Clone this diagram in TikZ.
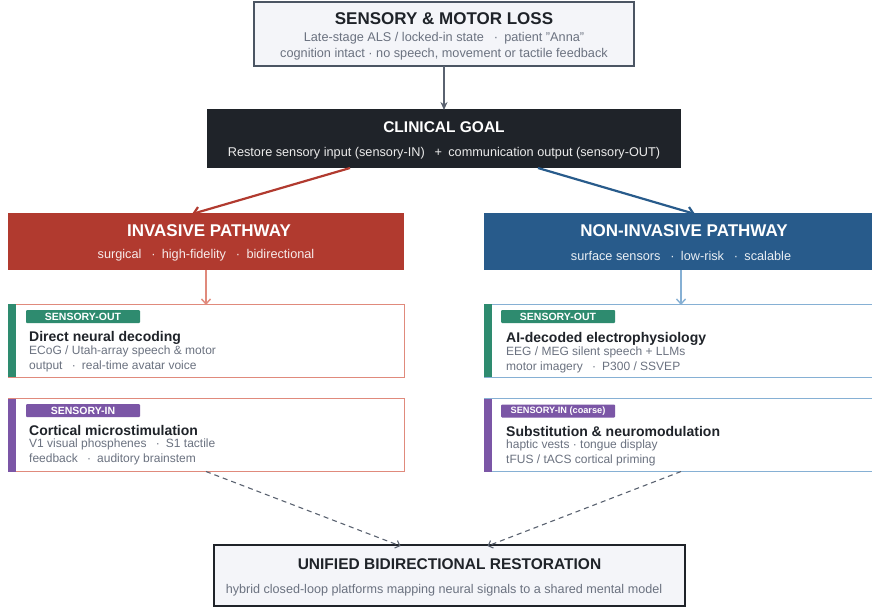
\documentclass[tikz,border=0pt]{standalone}
\usepackage{fontspec}
\setmainfont{Liberation Sans}
\usetikzlibrary{arrows.meta,calc}
\definecolor{topfill}{HTML}{F4F5F9}
\definecolor{topborder}{HTML}{4B5563}
\definecolor{goalfill}{HTML}{1F2329}
\definecolor{invred}{HTML}{B13A2F}
\definecolor{nonblue}{HTML}{285B8B}
\definecolor{lightred}{HTML}{E08A7C}
\definecolor{lightblue}{HTML}{86B0D4}
\definecolor{outgreen}{HTML}{2E8B6F}
\definecolor{inpurple}{HTML}{7B56A6}
\definecolor{subgray}{HTML}{6B7280}
\definecolor{darktext}{HTML}{1F2329}
\definecolor{arrowgray}{HTML}{5A6270}
\tikzset{
  box/.style={rectangle,inner sep=0pt,outer sep=0pt},
  titletext/.style={yshift=-1pt,font=\bfseries\fontsize{17}{20}\selectfont},
  subtext/.style={yshift=-1.5pt,font=\fontsize{12.7}{15}\selectfont},
  cardtitle/.style={yshift=-1.5pt,anchor=west,inner sep=0pt,font=\bfseries\fontsize{14}{16}\selectfont,text=darktext},
  cardline/.style={yshift=-1.5pt,anchor=west,inner sep=0pt,font=\fontsize{12}{14}\selectfont,text=subgray},
  badge/.style={rectangle,inner sep=0pt,minimum width=114pt,minimum height=13pt,rounded corners=1pt,text=white,font=\bfseries\fontsize{10.5}{12}\selectfont},
  card/.style={box,fill=white,minimum height=73pt,line width=1pt},
}
\begin{document}
\begin{tikzpicture}[x=1pt,y=-1pt]
\useasboundingbox (0,0) rectangle (872,608);

% top box
\node[box,draw=topborder,fill=topfill,line width=1.3pt,minimum width=380pt,minimum height=64pt] (loss) at (444,34) {};
\node[titletext,text=darktext] (lossT) at (444,18) {SENSORY \& MOTOR LOSS};
\node[subtext,text=subgray] (lossA) at (444,37) {Late-stage ALS / locked-in state \enspace·\enspace patient "Anna"};
\node[subtext,text=subgray] (lossB) at (444,53) {cognition intact · no speech, movement or tactile feedback};

% clinical goal
\node[box,fill=goalfill,minimum width=474pt,minimum height=59pt] (goal) at (444,138.5) {};
\node[titletext,text=white,font=\bfseries\fontsize{15.5}{18}\selectfont] (goalT) at (444,126) {CLINICAL GOAL};
\node[subtext,text=white!92!black] (goalS) at (444,152) {Restore sensory input (sensory-IN) \enspace+\enspace communication output (sensory-OUT)};

% pathways
\node[box,fill=invred,minimum width=396pt,minimum height=57pt] (inv) at (206,241.5) {};
\node[titletext,text=white] (invT) at (209,230) {INVASIVE PATHWAY};
\node[subtext,text=white!90!invred] (invS) at (206,254) {surgical \enspace·\enspace high-fidelity \enspace·\enspace bidirectional};

\node[box,fill=nonblue,minimum width=388pt,minimum height=57pt] (non) at (678,241.5) {};
\node[titletext,text=white] (nonT) at (684,230) {NON-INVASIVE PATHWAY};
\node[subtext,text=white!90!nonblue] (nonS) at (681,254) {surface sensors \enspace·\enspace low-risk \enspace·\enspace scalable};

% cards left
\node[card,draw=lightred,minimum width=396pt] (c1) at (206,340.5) {};
\fill[outgreen] (c1.north west) rectangle ([xshift=8pt]c1.south west);
\node[badge,fill=outgreen] (b1) at (83,316.5) {SENSORY-OUT};
\node[cardtitle] (c1T) at (29,336) {Direct neural decoding};
\node[cardline] (c1A) at (29,350) {ECoG / Utah-array speech \& motor};
\node[cardline] (c1B) at (29,364.5) {output \enspace·\enspace real-time avatar voice};

\node[card,draw=lightred,minimum width=396pt] (c2) at (206,435) {};
\fill[inpurple] (c2.north west) rectangle ([xshift=8pt]c2.south west);
\node[badge,fill=inpurple] (b2) at (83,410.5) {SENSORY-IN};
\node[cardtitle] (c2T) at (29,429) {Cortical microstimulation};
\node[cardline] (c2A) at (29,443) {V1 visual phosphenes \enspace·\enspace S1 tactile};
\node[cardline] (c2B) at (29,457.5) {feedback \enspace·\enspace auditory brainstem};

% cards right
\node[card,draw=lightblue,minimum width=388pt] (c3) at (678,340.5) {};
\fill[outgreen] (c3.north west) rectangle ([xshift=8pt]c3.south west);
\node[badge,fill=outgreen] (b3) at (558,316.5) {SENSORY-OUT};
\node[cardtitle] (c3T) at (506,337) {AI-decoded electrophysiology};
\node[cardline] (c3A) at (506,351) {EEG / MEG silent speech + LLMs};
\node[cardline] (c3B) at (506,365.5) {motor imagery \enspace·\enspace P300 / SSVEP};

\node[card,draw=lightblue,minimum width=388pt] (c4) at (678,435) {};
\fill[inpurple] (c4.north west) rectangle ([xshift=8pt]c4.south west);
\node[badge,fill=inpurple,font=\bfseries\fontsize{9.2}{11}\selectfont] (b4) at (558,411) {SENSORY-IN (coarse)};
\node[cardtitle] (c4T) at (506,430) {Substitution \& neuromodulation};
\node[cardline] (c4A) at (506,444) {haptic vests · tongue display};
\node[cardline] (c4B) at (506,458.5) {tFUS / tACS cortical priming};

% bottom box
\node[box,draw=goalfill,fill=topfill,line width=1.6pt,minimum width=471pt,minimum height=61pt] (uni) at (449.5,575.5) {};
\node[titletext,text=darktext,font=\bfseries\fontsize{15.5}{18}\selectfont] (uniT) at (449.5,563) {UNIFIED BIDIRECTIONAL RESTORATION};
\node[subtext,text=subgray,font=\fontsize{12.6}{15}\selectfont] (uniS) at (444,589) {hybrid closed-loop platforms mapping neural signals to a shared mental model};

% connectors
\draw[arrowgray,line width=2pt,-{Stealth[length=8pt,width=7pt]}] (loss.south) -- ([yshift=-1pt]goal.north);
\draw[invred,line width=2.2pt,-{Straight Barb[length=6pt,width=10pt]}] ([xshift=-94pt]goal.south) -- ([xshift=-14pt,yshift=-1pt]inv.north);
\draw[nonblue,line width=2.2pt,-{Straight Barb[length=6pt,width=10pt]}] ([xshift=94pt]goal.south) -- ([xshift=17pt,yshift=-1pt]non.north);
\draw[lightred,line width=1.4pt,-{Straight Barb[length=5pt,width=9pt]}] (inv.south) -- ([yshift=-1pt]c1.north);
\draw[lightblue,line width=1.4pt,-{Straight Barb[length=5pt,width=9pt]}] ([xshift=3pt]non.south) -- ([xshift=3pt,yshift=-1pt]c3.north);
\draw[arrowgray,line width=1.1pt,dash pattern=on 5pt off 4pt,-{Straight Barb[length=4pt,width=8pt]}] (c2.south) -- ([xshift=-49pt,yshift=-1pt]uni.north);
\draw[arrowgray,line width=1.1pt,dash pattern=on 5pt off 4pt,-{Straight Barb[length=4pt,width=8pt]}] ([xshift=3pt]c4.south) -- ([xshift=38pt,yshift=-1pt]uni.north);
\end{tikzpicture}
\end{document}
